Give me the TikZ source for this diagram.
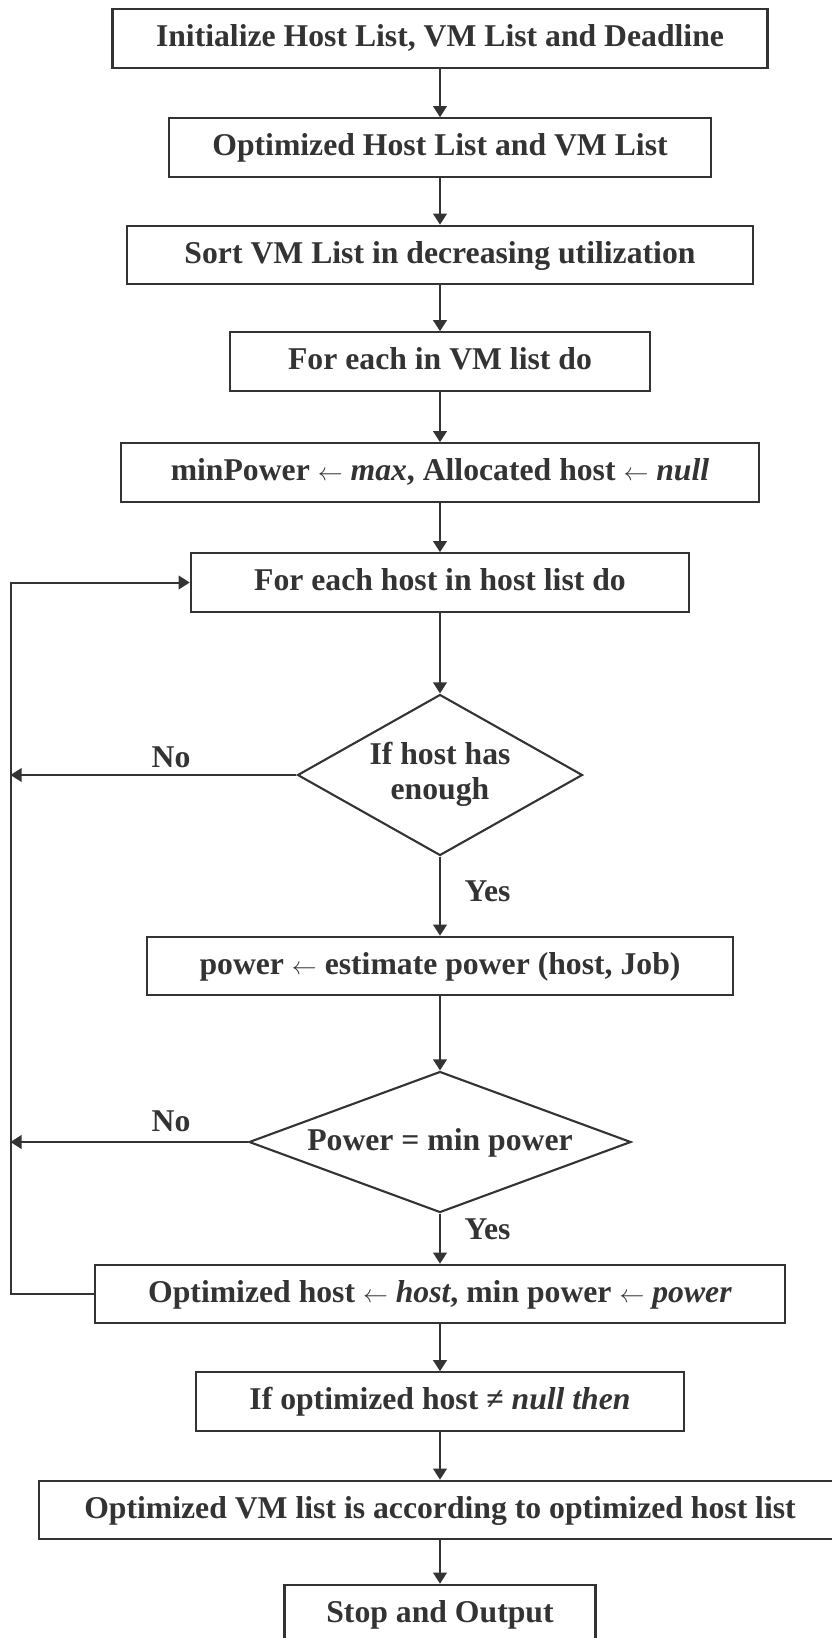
\documentclass[tikz,border=0pt]{standalone}
\usepackage{fontspec}
\setmainfont{Liberation Serif}
\usetikzlibrary{arrows.meta,shapes.geometric}
\definecolor{ink}{HTML}{333333}
\newcommand{\assignarrow}{\ensuremath{\leftarrow}}

\tikzset{
  txt/.style={font=\fontsize{31.7}{36}\selectfont\bfseries, text=ink, inner sep=0pt},
  stepbox/.style={txt, draw=ink, line width=2.1pt, rectangle, minimum height=58.5pt,
                  text height=22pt, text depth=6pt},
  decision/.style={draw=ink, line width=2.1pt, diamond, inner sep=0pt},
  lbl/.style={txt, text height=22pt, text depth=6pt},
  flow/.style={draw=ink, line width=2pt, -{Triangle[length=11pt,width=13.5pt]}},
}

\begin{document}
\begin{tikzpicture}[x=1pt,y=-1pt]
\useasboundingbox (0,0) rectangle (831,1638);

% main column of steps
\node[stepbox, minimum width=655pt]   (init)  at (440,38.5)  {Initialize Host List, VM List and Deadline};
\node[stepbox, minimum width=542pt]   (optl)  at (440,147.5) {Optimized Host List and VM List};
\node[stepbox, minimum width=625.5pt] (sort)  at (440,255)   {Sort VM List in decreasing utilization};
\node[stepbox, minimum width=420pt]   (forvm) at (440,361.5) {For each in VM list do};
\node[stepbox, minimum width=638.5pt] (minp)  at (440,472.5) {minPower \assignarrow{} \textit{max}, Allocated host \assignarrow{} \textit{null}};
\node[stepbox, minimum width=498.5pt] (forh)  at (440,582.5) {For each host in host list do};

\node[decision, minimum width=285pt, minimum height=161pt] (enough) at (440,775) {};
\node[txt, anchor=base] (enoughA) at (440,764.3) {If host has};
\node[txt, anchor=base] (enoughB) at (440,799.3) {enough};

\node[stepbox, minimum width=586pt]   (est)   at (440,966)   {power \assignarrow{} estimate power (host, Job)};

\node[decision, minimum width=382pt, minimum height=141pt] (cmp) at (440,1142) {};
\node[lbl] (cmpT) at (440,1142) {Power = min power};

\node[stepbox, minimum width=689.5pt] (upd)   at (440,1294)  {Optimized host \assignarrow{} \textit{host}, min power \assignarrow{} \textit{power}};
\node[stepbox, minimum width=488pt]   (ifnn)  at (440,1401.5){If optimized host ≠ \textit{null then}};
\node[stepbox, minimum width=802pt]   (vml)   at (440,1510)  {Optimized VM list is according to optimized host list};
\node[stepbox, minimum width=311pt]   (stop)  at (440,1614)  {Stop and Output};

% branch labels
\node[lbl] (no1)  at (171,759.3)   {No};
\node[lbl] (yes1) at (487.5,893.7) {Yes};
\node[lbl] (no2)  at (171,1123.7)  {No};
\node[lbl] (yes2) at (487.5,1231.3){Yes};

% vertical flow
\draw[flow] (init) -- (optl);
\draw[flow] (optl) -- (sort);
\draw[flow] (sort) -- (forvm);
\draw[flow] (forvm) -- (minp);
\draw[flow] (minp) -- (forh);
\draw[flow] (forh) -- (enough);
\draw[flow] (enough) -- (est);
\draw[flow] (est) -- (cmp);
\draw[flow] (cmp) -- (upd);
\draw[flow] (upd) -- (ifnn);
\draw[flow] (ifnn) -- (vml);
\draw[flow] (vml) -- (stop);

% loop back along the left rail
\coordinate (rail) at (10.5,0);
\draw[flow] (upd.west) -- (upd.west -| rail) |- (forh.west);
\draw[flow] (enough.west) -- (enough.west -| rail);
\draw[flow] (cmp.west) -- (cmp.west -| rail);
\end{tikzpicture}
\end{document}
